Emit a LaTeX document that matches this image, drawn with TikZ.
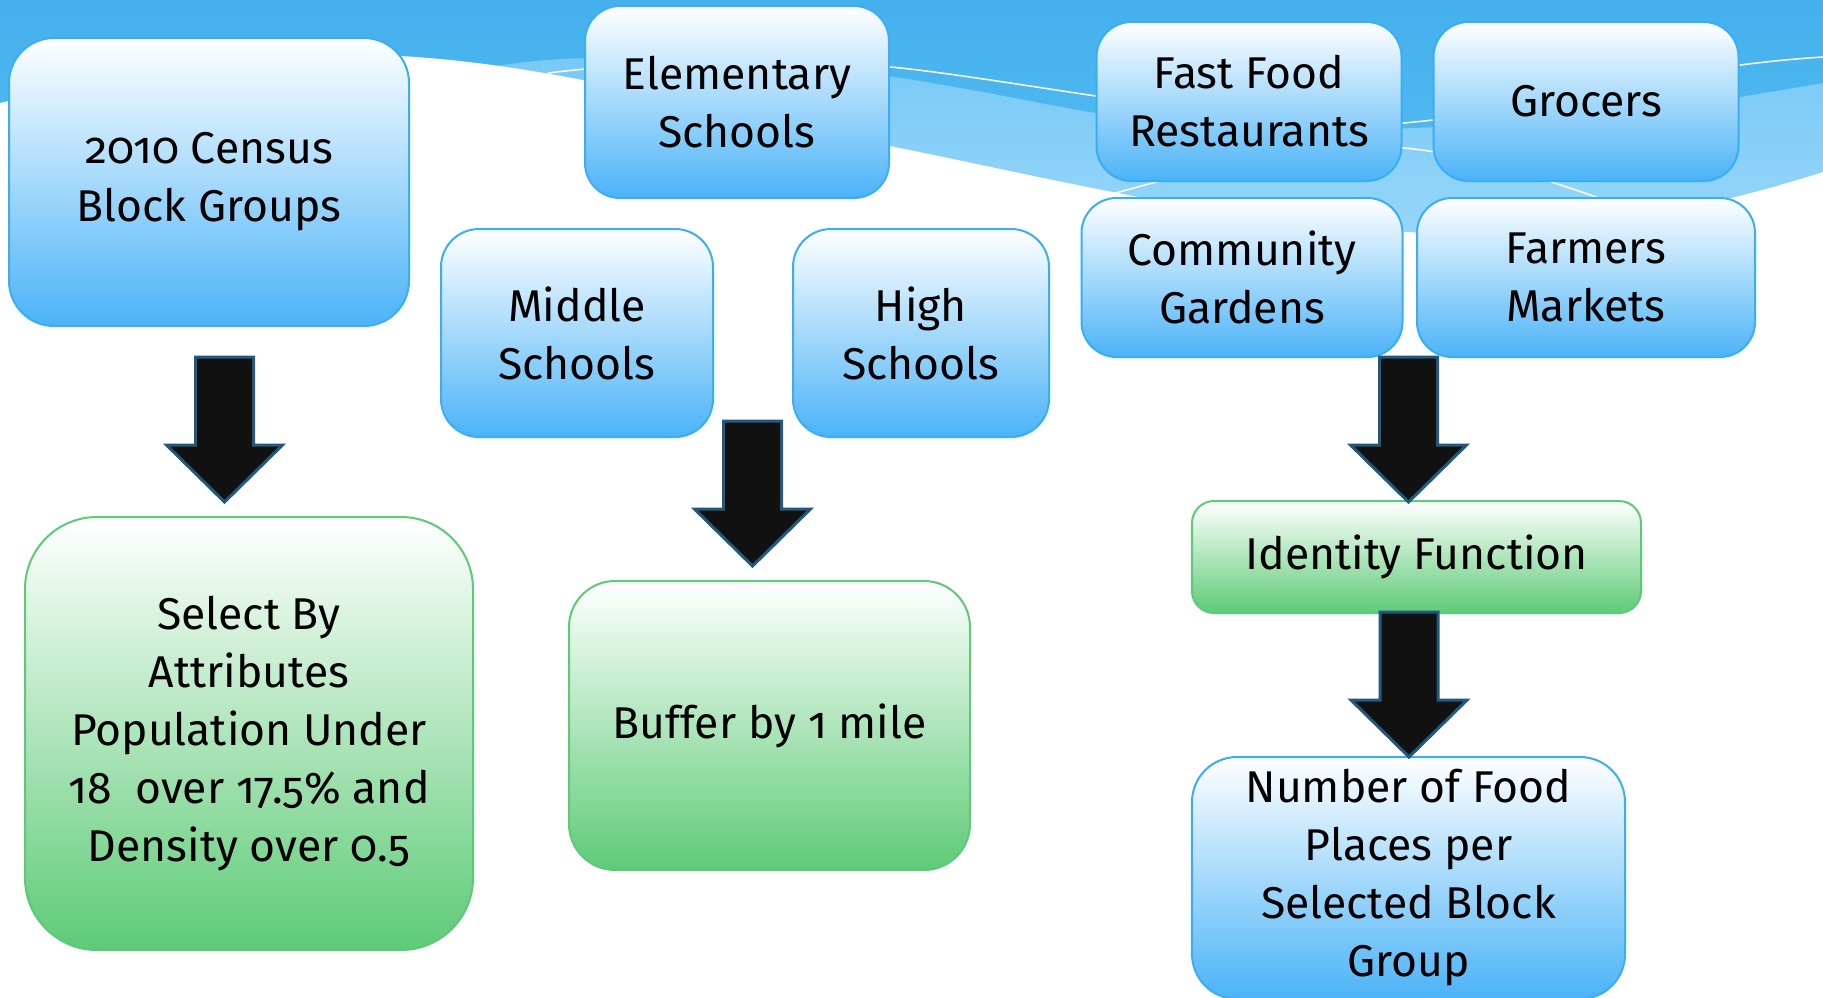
\documentclass[tikz,border=0pt]{standalone}
\usepackage{fontspec}
\setmainfont{Fira Sans}[Numbers=OldStyle]
\definecolor{skytop}{HTML}{44B0EC}
\definecolor{skybottom}{HTML}{5EC2F5}
\definecolor{bandtop}{HTML}{78C9F6}
\definecolor{bandbottom}{HTML}{A2DBFA}
\definecolor{boxblue}{HTML}{4BB3F7}
\definecolor{boxblueline}{HTML}{3AAEF4}
\definecolor{boxgreen}{HTML}{5ECB77}
\definecolor{boxgreenline}{HTML}{5CCA76}
\definecolor{arrowfill}{HTML}{111111}
\definecolor{arrowline}{HTML}{21587C}
\begin{document}
\begin{tikzpicture}[x=1pt,y=-1pt,
  boxtext/.style={font=\fontsize{44.5}{58}\selectfont, align=center, inner sep=0pt, text=black},
  bluebox/.style={boxtext, rectangle, draw=boxblueline, line width=2pt, top color=white, bottom color=boxblue},
  greenbox/.style={boxtext, rectangle, draw=boxgreenline, line width=2pt, top color=white, bottom color=boxgreen},
  flowarrow/.style={fill=arrowfill, draw=arrowline, line width=3pt, line join=miter},
  swoosh/.style={draw=white, line width=1.5pt},
  downarrow/.pic={\path[flowarrow] (-29,0) -- (29,0) -- (29,88) -- (58,88) -- (0,145) -- (-58,88) -- (-29,88) -- cycle;}
]
\useasboundingbox (0,0) rectangle (1823,997);

% sky band across the top
\shade[top color=skytop, bottom color=skybottom] (0,0) rectangle (1823,300);
% lighter wave band
\shade[top color=bandtop, bottom color=bandbottom]
  (495,66) .. controls (530,61) and (560,58) .. (600,58)
  .. controls (700,58) and (800,65) .. (880,75)
  .. controls (960,86) and (1030,102) .. (1100,114)
  .. controls (1300,145) and (1550,125) .. (1741,97)
  .. controls (1770,92) and (1800,87) .. (1823,83)
  -- (1823,300) -- (495,300) -- cycle;
% thin white swooshes
\path[swoosh] (548,73) .. controls (640,62) and (760,57) .. (880,66)
  .. controls (1000,76) and (1250,130) .. (1404,123)
  .. controls (1550,110) and (1650,68) .. (1823,57);
\path[swoosh] (1090,200) .. controls (1200,170) and (1300,140) .. (1404,148)
  .. controls (1480,155) and (1560,185) .. (1620,205);
% white page below the wave
\fill[white] (0,103) .. controls (120,75) and (250,52) .. (380,55)
  .. controls (560,62) and (720,115) .. (880,144)
  .. controls (1050,178) and (1250,228) .. (1430,233)
  .. controls (1600,232) and (1720,205) .. (1823,172)
  -- (1823,997) -- (0,997) -- cycle;

% input layers
\node[bluebox, rounded corners=45pt, minimum width=400pt, minimum height=288pt] (census) at (209,182) {2010 Census\\Block Groups};
\node[bluebox, rounded corners=35pt, minimum width=304pt, minimum height=192pt] (elem) at (737,102) {Elementary\\Schools};
\node[bluebox, rounded corners=38pt, minimum width=272pt, minimum height=208pt] (middle) at (577,333) {Middle\\Schools};
\node[bluebox, rounded corners=38pt, minimum width=256pt, minimum height=208pt] (high) at (921,333) {High\\Schools};
\node[bluebox, rounded corners=35pt, minimum width=305pt, minimum height=159pt] (fast) at (1249,101.5) {Fast Food\\Restaurants};
\node[bluebox, rounded corners=35pt, minimum width=305pt, minimum height=159pt] (grocers) at (1586,101.5) {Grocers};
\node[bluebox, rounded corners=35pt, minimum width=321pt, minimum height=159pt] (community) at (1242,277.5) {Community\\Gardens};
\node[bluebox, rounded corners=35pt, minimum width=338pt, minimum height=159pt] (farmers) at (1586,277.5) {Farmers\\Markets};

% processing steps
\node[greenbox, rounded corners=72pt, minimum width=448pt, minimum height=433pt] (select) at (249,733.5) {Select By\\Attributes\\Population Under\\18\ \ over 17.5\% and\\Density over 0.5};
\node[greenbox, rounded corners=46pt, minimum width=401pt, minimum height=289pt] (buffer) at (769.5,725.5) {Buffer by 1 mile};
\node[greenbox, rounded corners=22pt, minimum width=449pt, minimum height=112pt] (identity) at (1416.5,557) {Identity Function};

% result
\node[bluebox, rounded corners=45pt, minimum width=433pt, minimum height=242pt] (result) at (1408.5,878) {Number of Food\\Places per\\Selected Block\\Group};

% block arrows
\pic at (224.5,357) {downarrow};
\pic at (752.5,421) {downarrow};
\pic at (1408.5,357) {downarrow};
\pic at (1409,612) {downarrow};
\end{tikzpicture}
\end{document}
